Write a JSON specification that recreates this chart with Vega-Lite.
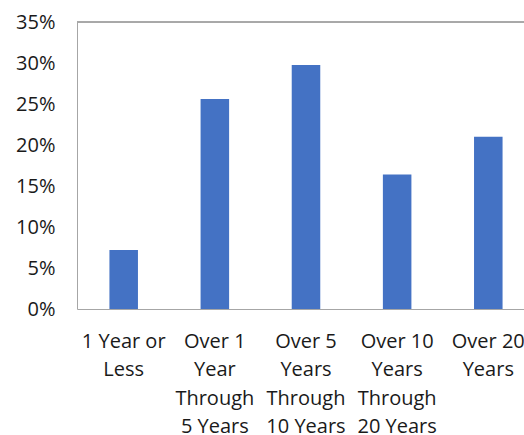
{
  "$schema": "https://vega.github.io/schema/vega-lite/v6.json",
  "width": 447,
  "height": 287,
  "autosize": {"type": "none"},
  "padding": {"left": 77, "top": 22, "right": 0, "bottom": 126},
  "background": "white",
  "view": {"stroke": null},
  "config": {
    "font": "Open Sans",
    "axis": {"labelFont": "Open Sans", "labelFontSize": 20, "labelColor": "#1a1a1a", "grid": false, "ticks": false}
  },
  "data": {
    "values": [
      {"category": "1 Year or\nLess", "share": 0.072},
      {"category": "Over 1\nYear\nThrough\n5 Years", "share": 0.256},
      {"category": "Over 5\nYears\nThrough\n10 Years", "share": 0.2975},
      {"category": "Over 10\nYears\nThrough\n20 Years", "share": 0.164},
      {"category": "Over 20\nYears", "share": 0.21}
    ]
  },
  "layer": [
    {
      "mark": {"type": "bar", "color": "#4472C4"},
      "encoding": {
        "x": {
          "field": "category",
          "type": "nominal",
          "sort": null,
          "scale": {"paddingInner": 0.687, "paddingOuter": 0.2955, "align": 0.602},
          "axis": {
            "title": null,
            "labelAngle": 0,
            "labelExpr": "split(datum.label, '\\n')",
            "labelLineHeight": 28.5,
            "labelPadding": 22,
            "labelBaseline": "top",
            "domain": true,
            "domainColor": "#a6a6a6",
            "labelLimit": 0,
            "labelOverlap": false,
            "labelBound": false,
            "labelFlush": false
          }
        },
        "y": {
          "field": "share",
          "type": "quantitative",
          "scale": {"domain": [0, 0.35], "nice": false},
          "axis": {
            "title": null,
            "values": [0, 0.05, 0.1, 0.15, 0.2, 0.25, 0.3, 0.35],
            "format": ".0%",
            "domain": true,
            "domainColor": "#a6a6a6",
            "labelPadding": 22
          }
        }
      }
    },
    {
      "mark": {"type": "rule", "color": "#a6a6a6", "strokeWidth": 1},
      "encoding": {"y": {"datum": 0.35}}
    }
  ]
}
